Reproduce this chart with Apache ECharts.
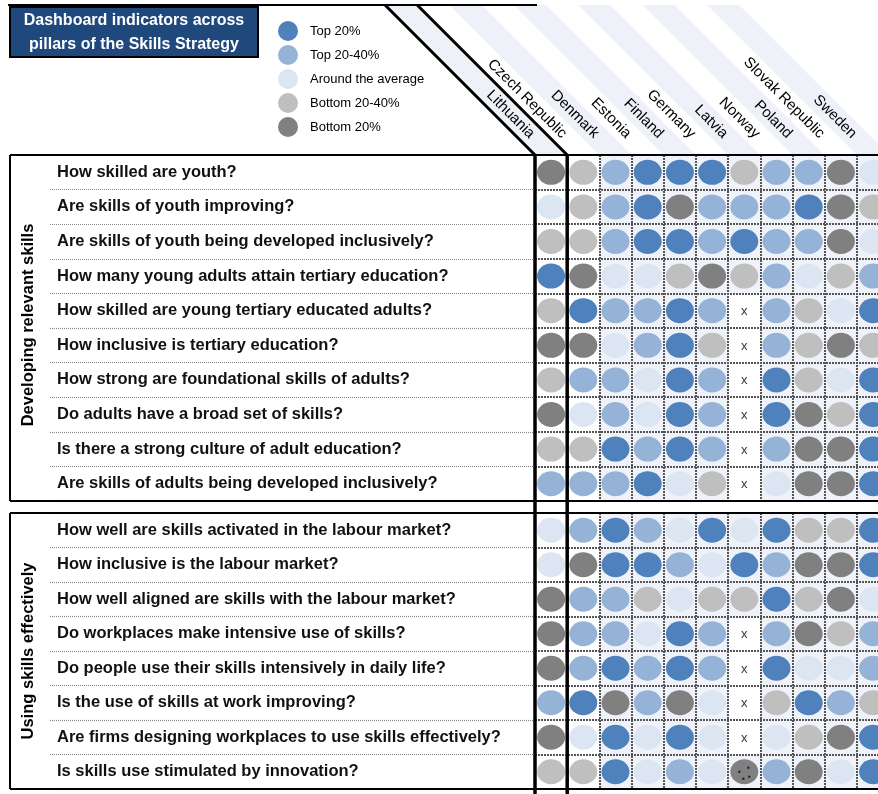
<!DOCTYPE html>
<html><head><meta charset="utf-8">
<script src="https://cdn.jsdelivr.net/npm/echarts@6/dist/echarts.min.js"></script>
<style>html,body{margin:0;padding:0;background:#fff}#c{width:878px;height:794px}</style>
</head><body><div id="c"></div>
<script>
// ---------- data ----------
const countries = ['Lithuania','Czech Republic','Denmark','Estonia','Finland','Germany','Latvia','Norway','Poland','Slovak Republic','Sweden'];
const developingQuestions = [
  'How skilled are youth?',
  'Are skills of youth improving?',
  'Are skills of youth being developed inclusively?',
  'How many young adults attain tertiary education?',
  'How skilled are young tertiary educated adults?',
  'How inclusive is tertiary education?',
  'How strong are foundational skills of adults?',
  'Do adults have a broad set of skills?',
  'Is there a strong culture of adult education?',
  'Are skills of adults being developed inclusively?'
];
const usingQuestions = [
  'How well are skills activated in the labour market?',
  'How inclusive is the labour market?',
  'How well aligned are skills with the labour market?',
  'Do workplaces make intensive use of skills?',
  'Do people use their skills intensively in daily life?',
  'Is the use of skills at work improving?',
  'Are firms designing workplaces to use skills effectively?',
  'Is skills use stimulated by innovation?'
];
// 5 = Top 20%, 4 = Top 20-40%, 3 = Around the average, 2 = Bottom 20-40%, 1 = Bottom 20%, 0 = x (no data), 6 = flagged bottom 20%
const developingScores = [
  [1,2,4,5,5,5,2,4,4,1,3],
  [3,2,4,5,1,4,4,4,5,1,2],
  [2,2,4,5,5,4,5,4,4,1,3],
  [5,1,3,3,2,1,2,4,3,2,4],
  [2,5,4,4,5,4,0,4,2,3,5],
  [1,1,3,4,5,2,0,4,2,1,2],
  [2,4,4,3,5,4,0,5,2,3,5],
  [1,3,4,3,5,4,0,5,1,2,5],
  [2,2,5,4,5,4,0,4,1,1,5],
  [4,4,4,5,3,2,0,3,1,1,5]
];
const usingScores = [
  [3,4,5,4,3,5,3,5,2,2,5],
  [3,1,5,5,4,3,5,4,1,1,5],
  [1,4,4,2,3,2,2,5,2,1,3],
  [1,4,4,3,5,4,0,4,1,2,4],
  [1,4,5,4,5,4,0,5,3,3,4],
  [4,5,1,4,1,3,0,2,5,4,2],
  [1,3,5,3,5,3,0,3,2,1,5],
  [2,2,5,3,4,3,6,4,1,3,5]
];
const levelCodes = [5,4,3,2,1];
const levelNames = ['Top 20%','Top 20-40%','Around the average','Bottom 20-40%','Bottom 20%'];
const MISSING = 0, FLAGGED = 6;

// ---------- style / layout ----------
const levelColors = {5:'#4F81BD',4:'#95B3D7',3:'#DCE6F2',2:'#BFBFBF',1:'#808080'};
const FONT = '"Liberation Sans", Arial, sans-serif';
const LAY = { dataLeft: 535, colW: 32.2, top1: 155, h1: 346, top2: 513, h2: 276, labelLeft: 50, boxLeft: 10, headTop: 5 };
const dataWidth = LAY.colW * countries.length;

function cellsWith(scores, code) {
  const out = [];
  scores.forEach((row, r) => row.forEach((v, c) => { if (v === code) out.push([c, r]); }));
  return out;
}
function bgSeries(scores, idx) {
  const data = [];
  scores.forEach((row, r) => row.forEach((v, c) => data.push([c, r, v])));
  return {
    type: 'custom', xAxisIndex: idx, yAxisIndex: idx, z: -1, silent: true, clip: false, data,
    renderItem(params, api) {
      const c = api.value(0), r = api.value(1), v = api.value(2);
      const p = api.coord([c, r]); const s = api.size([1, 1]);
      const fill = (c < 2 || v === MISSING) ? '#ffffff' : '#EFF3F9';
      return { type: 'rect', shape: { x: p[0] - s[0] / 2, y: p[1] - s[1] / 2, width: s[0], height: s[1] }, style: { fill } };
    }
  };
}
const speckle = [[-5, 0], [4, -4], [5, 5], [-1, 7]];
function dotSeries(scores, idx) {
  const list = levelCodes.map((code, k) => ({
    type: 'scatter', name: levelNames[k], xAxisIndex: idx, yAxisIndex: idx, silent: true,
    symbol: 'circle', symbolSize: [28, 25], itemStyle: { color: levelColors[code], opacity: 1 },
    data: cellsWith(scores, code)
  }));
  list.push({
    type: 'scatter', name: 'no data', xAxisIndex: idx, yAxisIndex: idx, silent: true,
    symbolSize: 2, itemStyle: { color: 'rgba(0,0,0,0)' },
    label: { show: true, formatter: 'x', position: 'inside', offset: [0, 1], color: '#000', fontSize: 13, fontFamily: FONT },
    data: cellsWith(scores, MISSING)
  });
  const flagged = cellsWith(scores, FLAGGED);
  if (flagged.length) list.push({
    type: 'custom', name: 'flagged', xAxisIndex: idx, yAxisIndex: idx, silent: true, clip: false,
    data: flagged,
    renderItem(params, api) {
      const p = api.coord([api.value(0), api.value(1)]);
      const children = [{ type: 'ellipse', shape: { cx: p[0], cy: p[1], rx: 14, ry: 12.5 }, style: { fill: levelColors[1] } }];
      speckle.forEach(d => children.push({ type: 'circle', shape: { cx: p[0] + d[0], cy: p[1] + d[1], r: 1.3 }, style: { fill: '#2a2a2a' } }));
      return { type: 'group', children };
    }
  });
  return list;
}
const splitDots = { show: true, interval: 0, lineStyle: { color: '#555', width: 2, type: [2, 1] } };
const labelDots = { show: true, interval: 0, lineStyle: { color: '#888', width: 1.2, type: [1, 1] } };
const rowLabel = { inside: true, margin: 7, interval: 0, fontWeight: 'bold', fontSize: 16.5, color: '#111', fontFamily: FONT };

const grids = [
  { left: LAY.labelLeft, top: LAY.top1, width: LAY.dataLeft - LAY.labelLeft, height: LAY.h1, outerBoundsMode: 'none' },
  { left: LAY.dataLeft, top: LAY.top1, width: dataWidth, height: LAY.h1, outerBoundsMode: 'none' },
  { left: LAY.labelLeft, top: LAY.top2, width: LAY.dataLeft - LAY.labelLeft, height: LAY.h2, outerBoundsMode: 'none' },
  { left: LAY.dataLeft, top: LAY.top2, width: dataWidth, height: LAY.h2, outerBoundsMode: 'none' }
];
const hidden = { axisLine: { show: false }, axisTick: { show: false } };
const xAxes = [
  { gridIndex: 0, type: 'value', show: false },
  Object.assign({ gridIndex: 1, type: 'category', data: countries, axisLabel: { show: false }, splitLine: splitDots }, hidden),
  { gridIndex: 2, type: 'value', show: false },
  Object.assign({ gridIndex: 3, type: 'category', data: countries, axisLabel: { show: false }, splitLine: splitDots }, hidden)
];
const yAxes = [
  Object.assign({ gridIndex: 0, type: 'category', data: developingQuestions, inverse: true, axisLabel: rowLabel, splitLine: labelDots }, hidden),
  Object.assign({ gridIndex: 1, type: 'category', data: developingQuestions, inverse: true, axisLabel: { show: false }, splitLine: splitDots }, hidden),
  Object.assign({ gridIndex: 2, type: 'category', data: usingQuestions, inverse: true, axisLabel: rowLabel, splitLine: labelDots }, hidden),
  Object.assign({ gridIndex: 3, type: 'category', data: usingQuestions, inverse: true, axisLabel: { show: false }, splitLine: splitDots }, hidden)
];

const countryLabels = {
  type: 'custom', xAxisIndex: 1, yAxisIndex: 1, clip: false, silent: true,
  data: countries.map((n, i) => [i, 0]),
  renderItem(params, api) {
    const i = api.value(0); const p = api.coord([i, 0]); const s = api.size([1, 1]);
    const top = p[1] - s[1] / 2; const t = 19;
    return { type: 'text', x: p[0] - t, y: top - t, rotation: -Math.PI / 4,
      style: { text: countries[i], align: 'right', verticalAlign: 'middle', fontSize: 15, fontFamily: FONT, fill: '#000' } };
  }
};

// ---------- decorations ----------
const colEdge = k => LAY.dataLeft + k * LAY.colW;
const rise = LAY.top1 - LAY.headTop;
const graphics = [];
for (let k = 0; k < countries.length; k += 2) {
  const a = colEdge(k), b = colEdge(k + 1);
  graphics.push({ type: 'polygon', z: -5, silent: true, shape: { points: [[a - rise, LAY.headTop], [b - rise, LAY.headTop], [b, LAY.top1], [a, LAY.top1]] }, style: { fill: '#EEF2F8' } });
}
const blk = (x1, y1, x2, y2, w) => ({ type: 'line', z: 100, silent: true, shape: { x1, y1, x2, y2 }, style: { stroke: '#000', lineWidth: w } });
graphics.push(blk(8, LAY.headTop, colEdge(0) + 2, LAY.headTop, 2));
graphics.push(blk(colEdge(0) - rise, LAY.headTop, colEdge(0), LAY.top1, 3));
graphics.push(blk(colEdge(1) - rise, LAY.headTop, colEdge(1), LAY.top1, 3));
[LAY.top1, LAY.top1 + LAY.h1, LAY.top2, LAY.top2 + LAY.h2].forEach(y => graphics.push(blk(LAY.boxLeft, y, 878, y, 2.2)));
graphics.push(blk(LAY.boxLeft, LAY.top1, LAY.boxLeft, LAY.top1 + LAY.h1, 2));
graphics.push(blk(LAY.boxLeft, LAY.top2, LAY.boxLeft, LAY.top2 + LAY.h2, 2));
graphics.push(blk(colEdge(0), LAY.top1, colEdge(0), 794, 3.5));
graphics.push(blk(colEdge(1), LAY.top1, colEdge(1), 794, 3.5));
graphics.push({ type: 'rect', z: 100, silent: true, shape: { x: 10, y: 7, width: 248, height: 50 }, style: { fill: '#1F497D', stroke: '#000', lineWidth: 2 } });
graphics.push({ type: 'text', z: 101, silent: true, x: 134, y: 33, style: { text: 'Dashboard indicators across\npillars of the Skills Strategy', align: 'center', verticalAlign: 'middle', lineHeight: 24, fontSize: 16, fontWeight: 'bold', fontFamily: FONT, fill: '#fff' } });
graphics.push({ type: 'text', z: 101, silent: true, x: 28, y: LAY.top1 + LAY.h1 / 2 - 3, rotation: Math.PI / 2, style: { text: 'Developing relevant skills', align: 'center', verticalAlign: 'middle', fontSize: 16.5, fontWeight: 'bold', fontFamily: FONT, fill: '#000' } });
graphics.push({ type: 'text', z: 101, silent: true, x: 28, y: LAY.top2 + LAY.h2 / 2, rotation: Math.PI / 2, style: { text: 'Using skills effectively', align: 'center', verticalAlign: 'middle', fontSize: 16.5, fontWeight: 'bold', fontFamily: FONT, fill: '#000' } });

const chart = echarts.init(document.getElementById('c'), null, { renderer: 'canvas' });
chart.setOption({
  animation: false,
  backgroundColor: '#fff',
  legend: {
    data: levelNames, orient: 'vertical', left: 278, top: 21, itemWidth: 22, itemHeight: 20, itemGap: 4,
    icon: 'circle', selectedMode: false, padding: 0,
    textStyle: { fontSize: 13, fontFamily: FONT, color: '#000', padding: [0, 0, 0, 6] }
  },
  grid: grids, xAxis: xAxes, yAxis: yAxes,
  graphic: graphics,
  series: [
    bgSeries(developingScores, 1), bgSeries(usingScores, 3),
    ...dotSeries(developingScores, 1), ...dotSeries(usingScores, 3),
    countryLabels
  ]
});
</script></body></html>
